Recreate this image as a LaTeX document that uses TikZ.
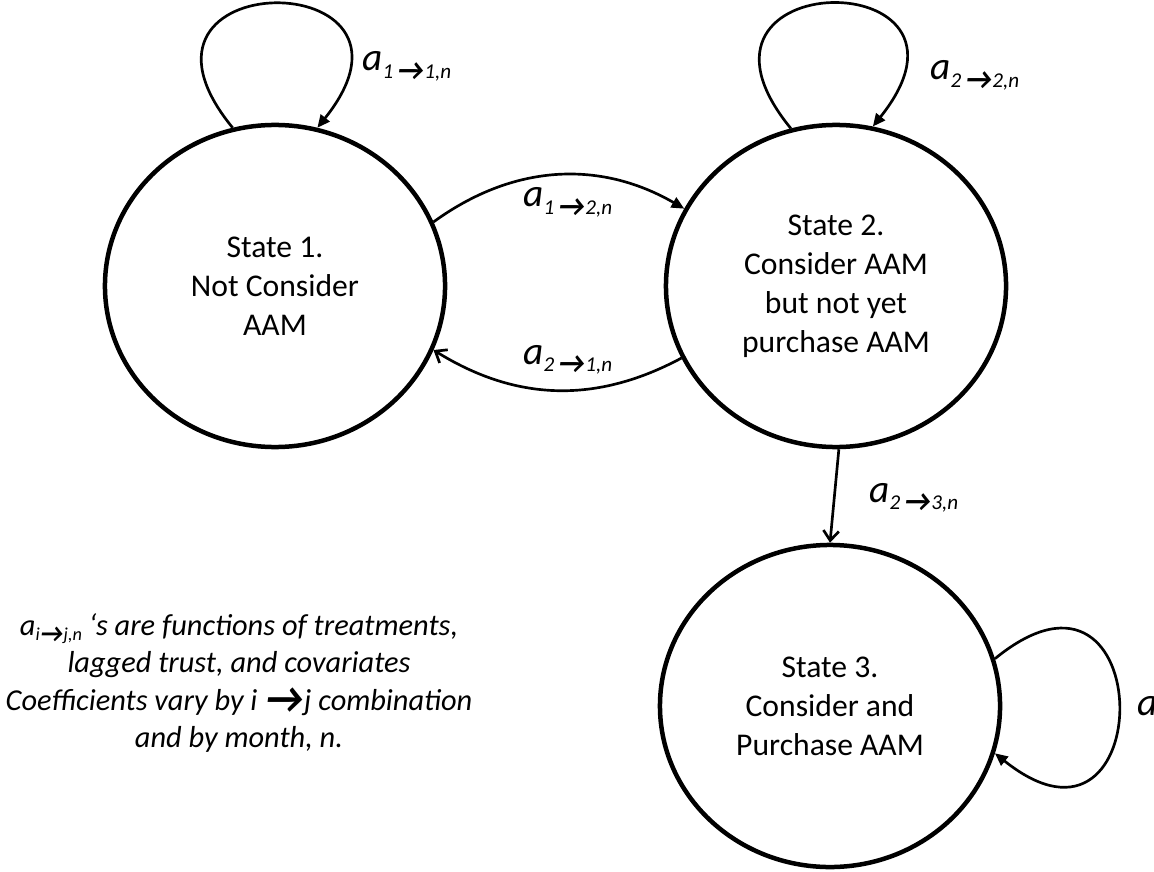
\documentclass[tikz,border=0pt]{standalone}
\usepackage{fontspec}
\setmainfont{Carlito}
\usetikzlibrary{shapes.geometric,arrows.meta}

% arrow sign and transition rate label a_{i->j,n}
\newcommand{\sto}{\raisebox{-0.12em}{\scalebox{1.45}{\bfseries →}}}
\newcommand{\rate}[2]{{\fontsize{28}{30}\selectfont\itshape a}\raisebox{-5pt}{\fontsize{15}{16}\selectfont\itshape #1\,\sto#2,n}}

\begin{document}
\begin{tikzpicture}[x=0.025cm, y=-0.025cm, every text node part/.style={align=center}]
	\tikzstyle{state} = [draw, ellipse, line width=3.2pt, minimum width=8.5cm, minimum height=8.05cm, inner sep=0pt, font=\fontsize{22.5}{27.7}\selectfont]
	\tikzstyle{rate} = [anchor=base west, inner sep=0pt]
	\tikzstyle{move} = [draw, line width=1.9pt]
	\useasboundingbox (0,0) rectangle (1154,872);

	\path (275, 286) node[state] (s1) {State 1.\\Not Consider\\AAM};
	\path (836, 286) node[state] (s2) {State 2.\\Consider AAM\\but not yet\\purchase AAM};
	\path (830, 706) node[state] (s3) {State 3.\\Consider and\\Purchase AAM};

	% self loops
	\path[move, -{Triangle[length=9pt, width=8pt]}] (s1.105) .. controls +(-135, -165) and +(132, -165) .. (s1.75);
	\path[move, -{Triangle[length=9pt, width=8pt]}] (s2.106) .. controls +(-135, -165) and +(132, -165) .. (s2.77);
	\path[move, -{Triangle[length=9pt, width=8pt]}] (s3.16) .. controls +(165, -135) and +(165, 132) .. (s3.-16);

	% moves between states
	\path[move, -{Triangle[length=9pt, width=8pt]}] (s1.22) to[bend left=33] (s2.153);
	\path[move, -{Straight Barb[length=7pt, width=11pt]}] (s2.205) to[bend left=30] (s1.338);
	\path[move, -{Straight Barb[length=7pt, width=11pt]}] (s2.271) -- (s3.north);

	\path (362, 71) node[rate] (r11) {\rate{1}{1}};
	\path (930, 80) node[rate] (r22) {\rate{2}{2}};
	\path (523, 207) node[rate] (r12) {\rate{1}{2}};
	\path (523, 364) node[rate] (r21) {\rate{2}{1}};
	\path (869, 502) node[rate] (r23) {\rate{2}{3}};
	\path (1137, 715) node[rate] (r33) {\rate{3}{3}};

	\path (239, 683) node[font=\fontsize{21.6}{26.7}\selectfont\itshape] (note) {a\raisebox{-4pt}{\fontsize{13}{14}\selectfont i\sto j,n} ‘s are functions of treatments,\\lagged trust, and covariates\\Coefficients vary by i \sto j combination\\and by month, n.};
\end{tikzpicture}
\end{document}
